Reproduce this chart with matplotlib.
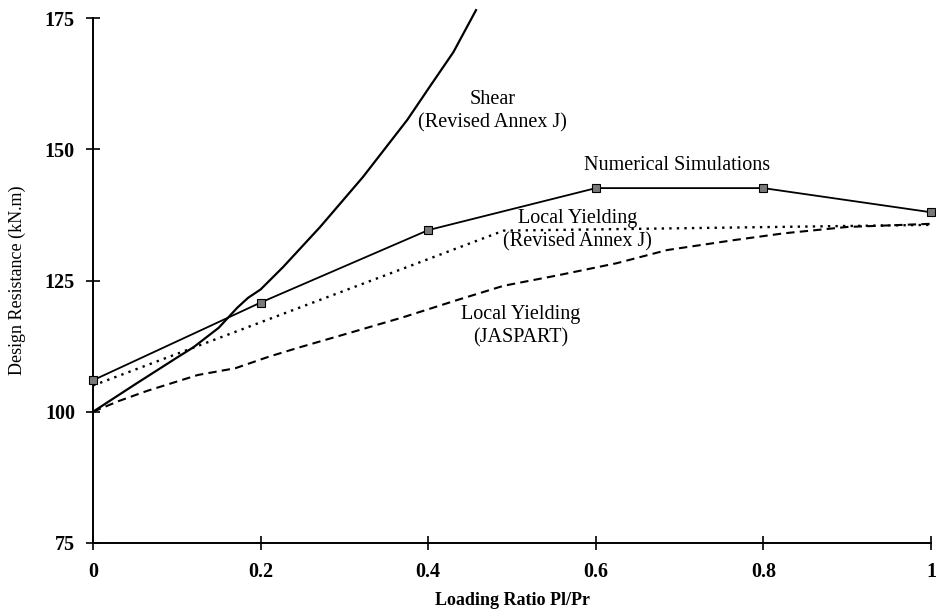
import matplotlib
matplotlib.use("Agg")
import matplotlib.pyplot as plt

plt.rcParams['font.family'] = ['Liberation Serif', 'DejaVu Serif']

# numerical simulation results
ratio_num = [0.0, 0.2, 0.4, 0.6, 0.8, 1.0]
res_num = [106.0, 120.8, 134.6, 142.6, 142.6, 138.0]

# shear resistance (revised Annex J)
ratio_shear = [0.0, 0.05, 0.10, 0.12, 0.15, 0.172, 0.185, 0.20, 0.227, 0.271, 0.322, 0.375, 0.40, 0.43, 0.457]
res_shear = [100.0, 105.2, 110.3, 112.3, 116.0, 119.8, 121.7, 123.3, 127.6, 135.2, 144.7, 155.6, 161.5, 168.5, 176.5]

# local yielding (revised Annex J)
ratio_ly = [0.0, 0.49, 1.0]
res_ly = [105.0, 134.5, 135.6]

# local yielding (JASPART)
ratio_jas = [0.0, 0.03, 0.065, 0.125, 0.17, 0.21, 0.245, 0.31, 0.37, 0.435,
             0.49, 0.555, 0.625, 0.685, 0.765, 0.825, 0.9, 1.0]
res_jas = [100.0, 102.0, 104.0, 107.0, 108.3, 110.5, 112.2, 115.2, 118.0, 121.3,
           124.0, 126.0, 128.3, 130.8, 132.7, 134.0, 135.2, 135.8]

x_ticks = [0, 0.2, 0.4, 0.6, 0.8, 1]
x_labels = ['0', '0.2', '0.4', '0.6', '0.8', '1']
y_ticks = [75, 100, 125, 150, 175]

fig = plt.figure(figsize=(9.36, 6.13), dpi=100)
ax = fig.add_axes([0.0994, 0.1142, 0.8953, 0.8564])

ax.plot(ratio_shear, res_shear, color='black', lw=1.6, clip_on=False)
ax.plot(ratio_ly, res_ly, color='black', lw=1.7, linestyle=(0, (1, 2.2)), clip_on=False)
ax.plot(ratio_jas, res_jas, color='black', lw=1.5, linestyle=(0, (4, 2.5)), clip_on=False)
ax.plot(ratio_num, res_num, color='black', lw=1.3, marker='s', markersize=6,
        markerfacecolor='#7a7a7a', markeredgecolor='black', markeredgewidth=0.8,
        clip_on=False, zorder=5)

ax.set_xlim(0, 1)
ax.set_ylim(75, 175)
ax.set_xticks(x_ticks)
ax.set_xticklabels(x_labels)
ax.set_yticks(y_ticks)

for side in ['top', 'right']:
    ax.spines[side].set_visible(False)
for side in ['left', 'bottom']:
    ax.spines[side].set_linewidth(1.4)

ax.tick_params(axis='both', direction='inout', length=10, width=1.2,
               labelsize=14.5)
ax.tick_params(axis='x', pad=9)
ax.tick_params(axis='y', pad=8)
for lbl in ax.get_xticklabels() + ax.get_yticklabels():
    lbl.set_fontweight('bold')

ax.set_xlabel('Loading Ratio Pl/Pr', fontsize=13, fontweight='bold')
ax.set_ylabel('Design Resistance (kN.m)', fontsize=13)
ax.xaxis.set_label_coords(0.5, -0.094)
ax.yaxis.set_label_coords(-0.08, 0.5)

# curve labels
txt = dict(fontsize=14.5, ha='center', va='center', linespacing=1.3)
ax.text(0.477, 157.2, 'Shear\n(Revised Annex J)', **txt)
ax.text(0.697, 147.0, 'Numerical Simulations', **txt)
ax.text(0.578, 134.6, 'Local Yielding\n(Revised Annex J)', **txt)
ax.text(0.51, 116.2, 'Local Yielding\n(JASPART)', **txt)

fig.savefig('out.png', dpi=100)
